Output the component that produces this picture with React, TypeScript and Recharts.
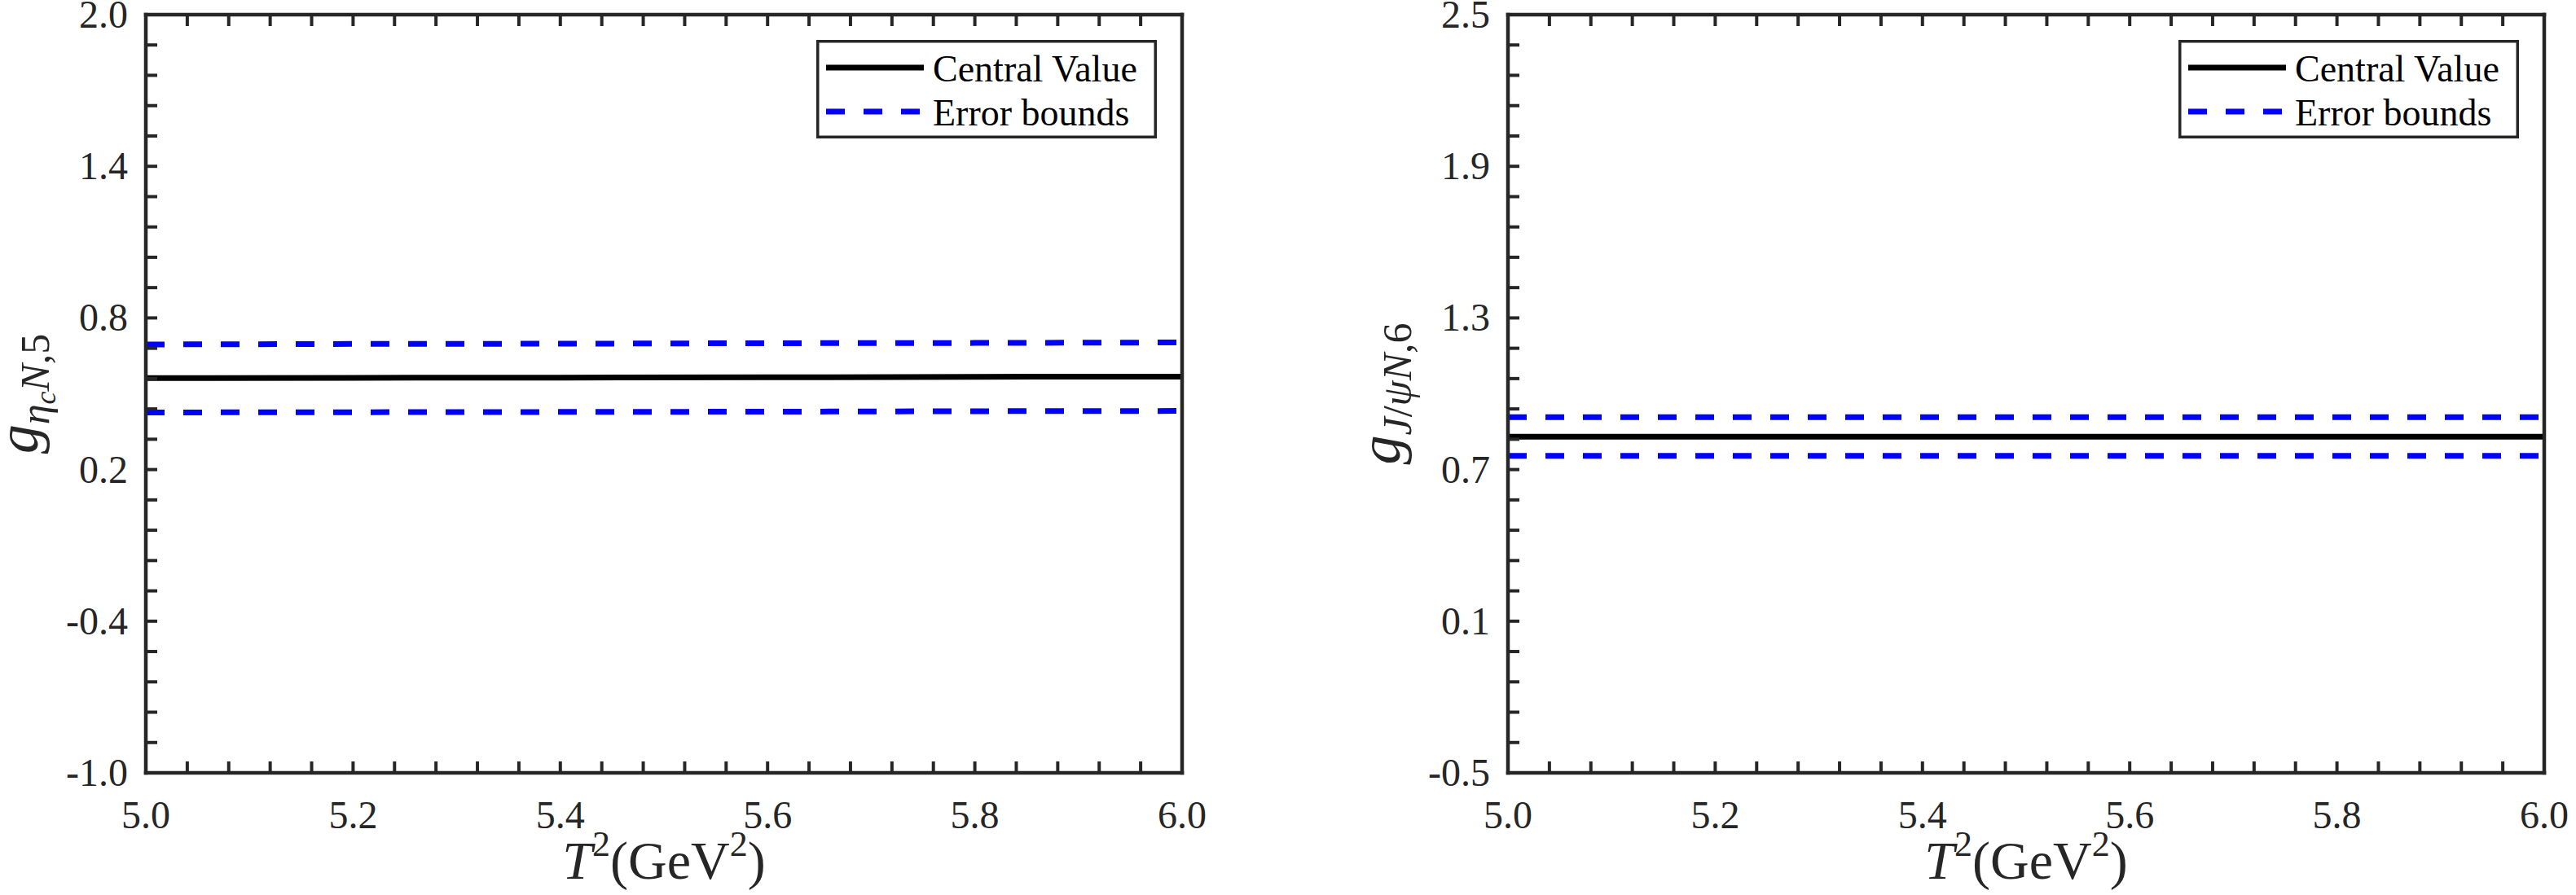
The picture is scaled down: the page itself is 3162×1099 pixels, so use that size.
import React from "react";
import { Legend, Line, LineChart, XAxis, YAxis } from "recharts";

// T^2 sample points (GeV^2)
const t2 = [5.0, 5.2, 5.4, 5.6, 5.8, 6.0];

// left panel: g_{eta_c N,5}
const etaCentral = [0.562, 0.563, 0.564, 0.565, 0.567, 0.568];
const etaUpper = [0.695, 0.697, 0.698, 0.7, 0.701, 0.703];
const etaLower = [0.426, 0.427, 0.428, 0.429, 0.431, 0.432];

// right panel: g_{J/psi N,6}
const psiCentral = [0.83, 0.83, 0.83, 0.83, 0.83, 0.83];
const psiUpper = [0.907, 0.907, 0.907, 0.907, 0.907, 0.907];
const psiLower = [0.754, 0.754, 0.754, 0.754, 0.754, 0.754];

const xMajor = [5.0, 5.2, 5.4, 5.6, 5.8, 6.0];
const etaYMajor = [-1.0, -0.4, 0.2, 0.8, 1.4, 2.0];
const psiYMajor = [-0.5, 0.1, 0.7, 1.3, 1.9, 2.5];

const legendNames = ["Central Value", "Error bounds"];

const INK = "#262626";
const BLUE = "#0000ff";
const FONT = "'Liberation Serif', 'Times New Roman', serif";
const TICK = 14;
const MINOR = 5;

const W = 1581;
const H = 1099;

// 4 minor ticks between labelled ones
const withMinor = (major: number[]) => {
  const out: number[] = [];
  for (let i = 0; i < major.length - 1; i++) {
    const step = (major[i + 1] - major[i]) / MINOR;
    for (let k = 0; k < MINOR; k++) out.push(Math.round((major[i] + k * step) * 1000) / 1000);
  }
  out.push(major[major.length - 1]);
  return out;
};

const isMajor = (v: number, major: number[]) => major.some((m) => Math.abs(m - v) < 1e-6);

const bottomTick = (major: number[]) => (props: any) => {
  const { x, y, payload } = props;
  const v = payload.value;
  return (
    <g>
      <line x1={x} x2={x} y1={y} y2={y - TICK} stroke={INK} strokeWidth={4} />
      {isMajor(v, major) && (
        <text x={x} y={y + 68} textAnchor="middle" fontFamily={FONT} fontSize={48} fill={INK}>
          {v.toFixed(1)}
        </text>
      )}
    </g>
  );
};

const leftTick = (major: number[]) => (props: any) => {
  const { x, y, payload } = props;
  const v = payload.value;
  return (
    <g>
      <line x1={x} x2={x + TICK} y1={y} y2={y} stroke={INK} strokeWidth={4} />
      {isMajor(v, major) && (
        <text x={x - 22} y={y + 16} textAnchor="end" fontFamily={FONT} fontSize={48} fill={INK}>
          {v.toFixed(1)}
        </text>
      )}
    </g>
  );
};

const topTick = (props: any) => (
  <line x1={props.x} x2={props.x} y1={props.y} y2={props.y + TICK} stroke={INK} strokeWidth={4} />
);

const rightTick = (props: any) => (
  <line x1={props.x} x2={props.x - TICK} y1={props.y} y2={props.y} stroke={INK} strokeWidth={4} />
);

const XTitle = (props: any) => {
  const vb = props.viewBox || { x: 179, y: 949, width: 1272 };
  const cx = vb.x + vb.width / 2;
  return (
    <text x={cx} y={vb.y + 130} textAnchor="middle" fontFamily={FONT} fontSize={66} fill={INK}>
      <tspan fontStyle="italic">T</tspan>
      <tspan fontSize={44} dy={-28}>2</tspan>
      <tspan dy={28}>(GeV</tspan>
      <tspan fontSize={44} dy={-28}>2</tspan>
      <tspan dy={28}>)</tspan>
    </text>
  );
};

const EtaLabel = (props: any) => {
  const vb = props.viewBox || { x: 178, y: 18, height: 931 };
  const x = vb.x - 132;
  const cy = vb.y + vb.height / 2;
  return (
    <text x={x} y={cy} transform={`rotate(-90, ${x}, ${cy})`} textAnchor="middle" fontFamily={FONT} fill={INK}>
      <tspan fontStyle="italic" fontSize={72}>g</tspan>
      <tspan fontStyle="italic" fontSize={50} dy={14}>η</tspan>
      <tspan fontStyle="italic" fontSize={36} dy={8}>c</tspan>
      <tspan fontStyle="italic" fontSize={50} dy={-8}>N</tspan>
      <tspan fontSize={50}>,5</tspan>
    </text>
  );
};

const PsiLabel = (props: any) => {
  const vb = props.viewBox || { x: 269, y: 18, height: 931 };
  const x = vb.x - 132;
  const cy = vb.y + vb.height / 2;
  return (
    <text x={x} y={cy} transform={`rotate(-90, ${x}, ${cy})`} textAnchor="middle" fontFamily={FONT} fill={INK}>
      <tspan fontStyle="italic" fontSize={72}>g</tspan>
      <tspan fontStyle="italic" fontSize={50} dy={14}>J</tspan>
      <tspan fontSize={50}>/</tspan>
      <tspan fontStyle="italic" fontSize={50}>ψ</tspan>
      <tspan fontStyle="italic" fontSize={50}>N</tspan>
      <tspan fontSize={50}>,6</tspan>
    </text>
  );
};

const LegendBox = () => (
  <svg width={418} height={121} style={{ display: "block" }}>
    <rect x={1.75} y={1.75} width={414.5} height={117.5} fill="#fff" stroke={INK} strokeWidth={3.5} />
    <line x1={12} x2={132} y1={34} y2={34} stroke="#000" strokeWidth={7} />
    <text x={143} y={51} fontFamily={FONT} fontSize={46} fill="#000">
      {legendNames[0]}
    </text>
    <line x1={12} x2={127} y1={88} y2={88} stroke={BLUE} strokeWidth={7} strokeDasharray="23 23" />
    <text x={143} y={105} fontFamily={FONT} fontSize={46} fill="#000">
      {legendNames[1]}
    </text>
  </svg>
);

type PanelProps = {
  central: number[];
  upper: number[];
  lower: number[];
  yMajor: number[];
  plotLeft: number;
  plotRight: number;
  yLabel: React.ReactElement;
};

const PLOT_TOP = 18;
const PLOT_BOTTOM = 949;

const Panel = ({ central, upper, lower, yMajor, plotLeft, plotRight, yLabel }: PanelProps) => {
  const data = t2.map((t, i) => ({ t, central: central[i], upper: upper[i], lower: lower[i] }));
  const xTicks = withMinor(xMajor);
  const yTicks = withMinor(yMajor);
  const xDomain = [xMajor[0], xMajor[xMajor.length - 1]];
  const yDomain = [yMajor[0], yMajor[yMajor.length - 1]];
  const axisLine = { stroke: INK, strokeWidth: 4.5, strokeLinecap: "square" as const };

  // every axis is 1px deep, so margins leave room for it
  const margin = {
    top: PLOT_TOP - 1,
    right: W - plotRight - 1,
    bottom: H - PLOT_BOTTOM - 1,
    left: plotLeft - 1,
  };

  return (
    <LineChart width={W} height={H} data={data} margin={margin}>
      <XAxis
        dataKey="t"
        type="number"
        domain={xDomain}
        ticks={xTicks}
        interval={0}
        height={1}
        tickSize={0}
        tickMargin={0}
        tickLine={false}
        axisLine={axisLine}
        tick={bottomTick(xMajor)}
        label={<XTitle />}
      />
      <XAxis
        xAxisId="top"
        orientation="top"
        dataKey="t"
        type="number"
        domain={xDomain}
        ticks={xTicks}
        interval={0}
        height={1}
        tickSize={0}
        tickMargin={0}
        tickLine={false}
        axisLine={axisLine}
        tick={topTick}
      />
      <YAxis
        type="number"
        domain={yDomain}
        ticks={yTicks}
        interval={0}
        width={1}
        tickSize={0}
        tickMargin={0}
        tickLine={false}
        axisLine={axisLine}
        tick={leftTick(yMajor)}
        label={yLabel}
      />
      <YAxis
        yAxisId="right"
        orientation="right"
        type="number"
        domain={yDomain}
        ticks={yTicks}
        interval={0}
        width={1}
        tickSize={0}
        tickMargin={0}
        tickLine={false}
        axisLine={axisLine}
        tick={rightTick}
      />
      <Line
        dataKey="upper"
        type="linear"
        stroke={BLUE}
        strokeWidth={7}
        strokeDasharray="23 23"
        dot={false}
        activeDot={false}
        isAnimationActive={false}
      />
      <Line
        dataKey="lower"
        type="linear"
        stroke={BLUE}
        strokeWidth={7}
        strokeDasharray="23 23"
        dot={false}
        activeDot={false}
        isAnimationActive={false}
      />
      <Line
        dataKey="central"
        type="linear"
        stroke="#000"
        strokeWidth={7}
        dot={false}
        activeDot={false}
        isAnimationActive={false}
      />
      <Legend
        layout="vertical"
        align="center"
        verticalAlign="middle"
        content={() => <LegendBox />}
        wrapperStyle={{ left: plotRight - 31 - 418, top: 49, width: 418, height: 121 }}
      />
    </LineChart>
  );
};

export default function App() {
  return (
    <div style={{ position: "absolute", left: 0, top: 0, width: 3162, height: 1099, background: "#fff" }}>
      <div style={{ position: "absolute", left: 0, top: 0 }}>
        <Panel
          central={etaCentral}
          upper={etaUpper}
          lower={etaLower}
          yMajor={etaYMajor}
          plotLeft={179}
          plotRight={1451}
          yLabel={<EtaLabel />}
        />
      </div>
      <div style={{ position: "absolute", left: W, top: 0 }}>
        <Panel
          central={psiCentral}
          upper={psiUpper}
          lower={psiLower}
          yMajor={psiYMajor}
          plotLeft={270}
          plotRight={1542}
          yLabel={<PsiLabel />}
        />
      </div>
    </div>
  );
}
